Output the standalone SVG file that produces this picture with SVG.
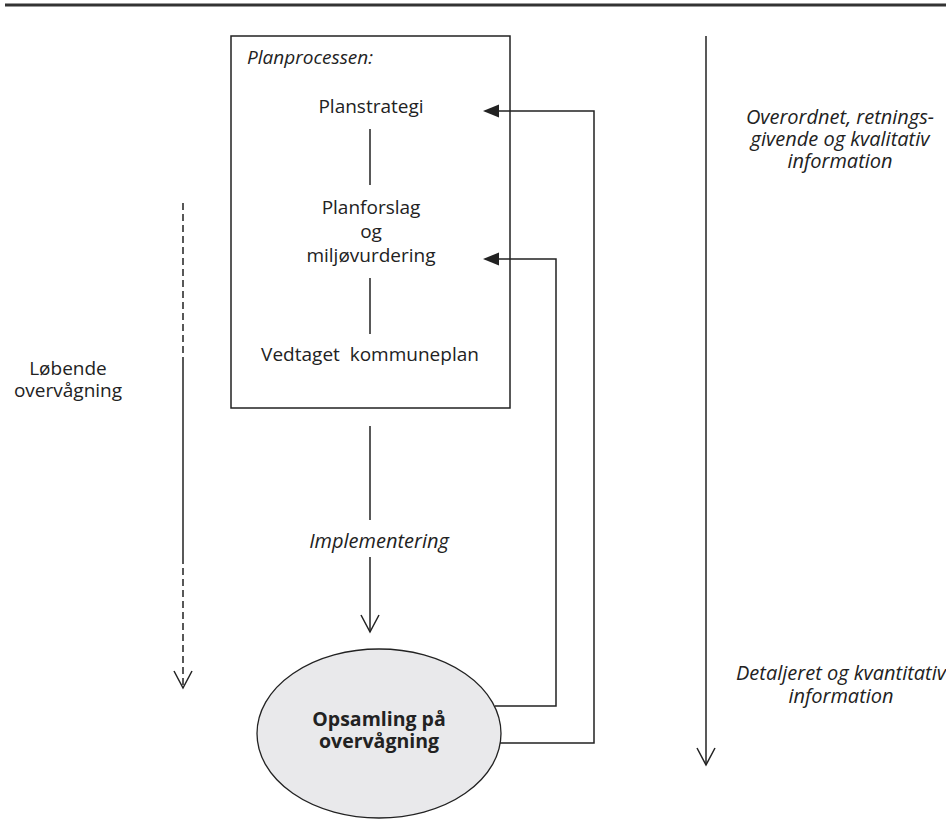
<svg xmlns="http://www.w3.org/2000/svg" width="946" height="836" viewBox="0 0 946 836">
<style>
  text { font-family: "Open Sans", "Noto Sans", "Liberation Sans", sans-serif; fill: #222; font-size: 19px; }
  .it { font-style: italic; font-size: 20px; }
  .b { font-weight: bold; font-size: 19.5px; }
  .ln { stroke: #222; stroke-width: 1.5; fill: none; }
  .hd { fill: #222; stroke: none; }
</style>
<defs>
  <marker id="vhead" markerWidth="20" markerHeight="20" refX="18" refY="10" orient="auto" markerUnits="userSpaceOnUse" viewBox="0 0 20 20">
    <path d="M1,1 L18,10 L1,19" fill="none" stroke="#222" stroke-width="1.5"/>
  </marker>
</defs>
<rect x="0" y="0" width="946" height="836" fill="#fff"/>
<line x1="5" y1="5" x2="946" y2="5" stroke="#333" stroke-width="3"/>

<g id="planprocessen">
  <rect x="231" y="36" width="279" height="372" class="ln"/>
  <text x="247" y="64" class="it" style="font-size:19px">Planprocessen:</text>
  <text x="371" y="113" text-anchor="middle">Planstrategi</text>
  <line x1="370" y1="129" x2="370" y2="185" class="ln"/>
  <text x="371" y="214" text-anchor="middle">Planforslag</text>
  <text x="371" y="238" text-anchor="middle">og</text>
  <text x="371" y="262" text-anchor="middle">miljøvurdering</text>
  <line x1="370" y1="278" x2="370" y2="334" class="ln"/>
  <text x="370" y="361" text-anchor="middle" xml:space="preserve">Vedtaget  kommuneplan</text>
</g>

<g id="opsamling">
  <ellipse cx="379" cy="733.5" rx="122" ry="84.5" fill="#e9e9eb" stroke="#222" stroke-width="1.3"/>
  <text x="379" y="726" text-anchor="middle" class="b">Opsamling på</text>
  <text x="379" y="748" text-anchor="middle" class="b">overvågning</text>
</g>

<g id="loebende">
  <text x="68" y="375" text-anchor="middle">Løbende</text>
  <text x="68" y="397" text-anchor="middle">overvågning</text>
</g>

<g id="overordnet">
  <text x="840" y="124" text-anchor="middle" class="it">Overordnet, retnings-</text>
  <text x="840" y="146" text-anchor="middle" class="it">givende og kvalitativ</text>
  <text x="840" y="168" text-anchor="middle" class="it">information</text>
</g>

<g id="detaljeret">
  <text x="841" y="680" text-anchor="middle" class="it">Detaljeret og kvantitativ</text>
  <text x="841" y="703" text-anchor="middle" class="it">information</text>
</g>

<g id="implementering">
  <text x="379" y="548" text-anchor="middle" class="it">Implementering</text>
</g>

<g id="connectors">
  <!-- implementation -->
  <line x1="370" y1="426" x2="370" y2="520" class="ln"/>
  <line x1="370" y1="557" x2="370" y2="632" class="ln" marker-end="url(#vhead)"/>
  <!-- feedback to Planstrategi -->
  <polyline points="500,743 594,743 594,111 497,111" class="ln"/>
  <path d="M483,111 L499,104.5 L499,117.5 Z" class="hd"/>
  <!-- feedback to Planforslag -->
  <polyline points="495,706 556,706 556,259 497,259" class="ln"/>
  <path d="M483,259 L499,252.5 L499,265.5 Z" class="hd"/>
  <!-- left monitoring arrow -->
  <line x1="183" y1="203" x2="183" y2="363" class="ln" stroke-dasharray="7,4"/>
  <line x1="183" y1="363" x2="183" y2="557" class="ln"/>
  <line x1="183" y1="557" x2="183" y2="688" class="ln" stroke-dasharray="7,4" marker-end="url(#vhead)"/>
  <!-- right scale arrow -->
  <line x1="706" y1="36" x2="706" y2="765" class="ln" marker-end="url(#vhead)"/>
</g>
</svg>
